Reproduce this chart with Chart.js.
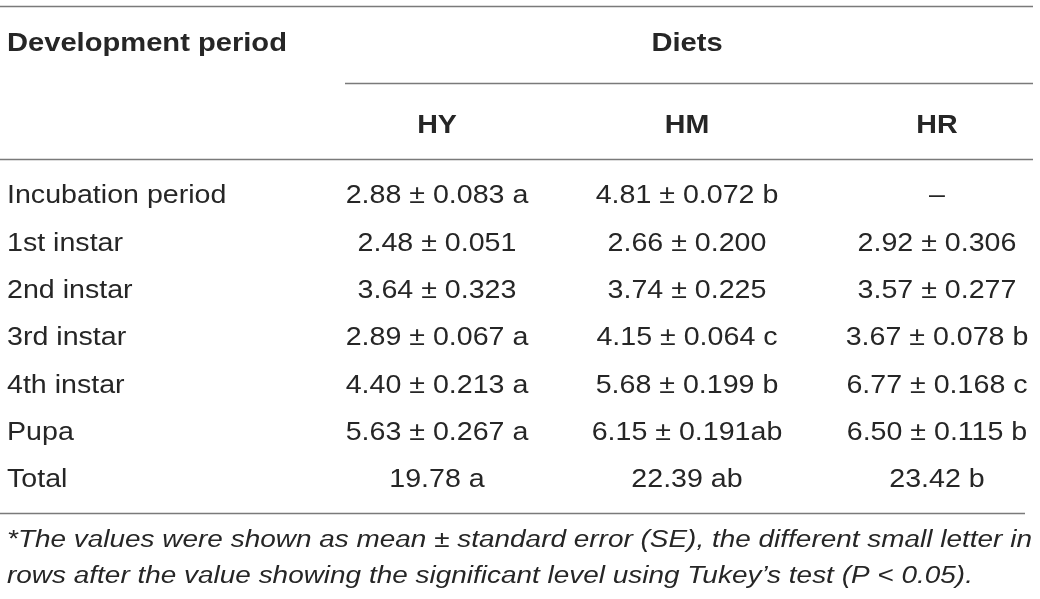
<!DOCTYPE html>
<html>
<head>
<meta charset="utf-8">
<script src="https://cdn.jsdelivr.net/npm/chart.js@4"></script>
<style>
  body { margin: 0; background: #fff; }
  canvas { display: block; }
</style>
</head>
<body>
<canvas id="tableChart" width="1040" height="599"></canvas>
<script>
// table content
const groupHeader = 'Development period';
const spanHeader = 'Diets';
const diets = ['HY', 'HM', 'HR'];
const periods = ['Incubation period', '1st instar', '2nd instar', '3rd instar', '4th instar', 'Pupa', 'Total'];
const hyValues = ['2.88 \u00b1 0.083 a', '2.48 \u00b1 0.051', '3.64 \u00b1 0.323', '2.89 \u00b1 0.067 a', '4.40 \u00b1 0.213 a', '5.63 \u00b1 0.267 a', '19.78 a'];
const hmValues = ['4.81 \u00b1 0.072 b', '2.66 \u00b1 0.200', '3.74 \u00b1 0.225', '4.15 \u00b1 0.064 c', '5.68 \u00b1 0.199 b', '6.15 \u00b1 0.191ab', '22.39 ab'];
const hrValues = ['\u2013', '2.92 \u00b1 0.306', '3.57 \u00b1 0.277', '3.67 \u00b1 0.078 b', '6.77 \u00b1 0.168 c', '6.50 \u00b1 0.115 b', '23.42 b'];
const footnote = [
    '*The values were shown as mean \u00b1 standard error (SE), the different small letter in',
    'rows after the value showing the significant level using Tukey\u2019s test (P < 0.05).'
];

// layout in axis units (x = column index, y = row index)
const labelCol = -0.72;
const headerRow = -3.21;
const dietRow = -1.48;
const footRows = [7.28, 8.04];
const rules = [
    { y: -3.98, from: -0.748, to: 3.384 },
    { y: -2.35, from: 0.632, to: 3.384 },
    { y: -0.74, from: -0.748, to: 3.384 },
    { y: 6.74, from: -0.748, to: 3.352 }
];

const textColor = '#262626';
const ruleColor = '#7a7a7a';
const fontFamily = '"Liberation Sans", Arial, sans-serif';

function cellPoints(col, n) {
    const pts = [];
    for (let i = 0; i < n; i++) pts.push({ x: col, y: i });
    return pts;
}

const columns = [periods, hyValues, hmValues, hrValues];
const datasets = columns.map((texts, c) => ({
    label: c === 0 ? groupHeader : diets[c - 1],
    data: cellPoints(c === 0 ? labelCol : c, texts.length),
    texts: texts,
    pointRadius: 0,
    showLine: false
}));

function drawText(ctx, str, x, y, font, align, stretch) {
    ctx.save();
    ctx.font = font;
    ctx.fillStyle = textColor;
    ctx.textBaseline = 'middle';
    ctx.translate(x, y + 2);
    ctx.scale(stretch, 1);
    const w = ctx.measureText(str).width;
    let dx = 0;
    if (align === 'center') dx = -w / 2;
    ctx.fillText(str, dx, 0);
    ctx.restore();
}

const tablePlugin = {
    id: 'tablePlugin',
    afterDatasetsDraw(chart) {
        const ctx = chart.ctx;
        const xs = chart.scales.x;
        const ys = chart.scales.y;
        const body = '26px ' + fontFamily;
        const bold = 'bold 26px ' + fontFamily;
        const italic = 'italic 23px ' + fontFamily;

        // rules
        ctx.save();
        ctx.strokeStyle = ruleColor;
        ctx.lineWidth = 1.3;
        rules.forEach(r => {
            const py = Math.round(ys.getPixelForValue(r.y)) + 0.5;
            ctx.beginPath();
            ctx.moveTo(xs.getPixelForValue(r.from), py);
            ctx.lineTo(xs.getPixelForValue(r.to), py);
            ctx.stroke();
        });
        ctx.restore();

        // headers
        drawText(ctx, groupHeader, xs.getPixelForValue(labelCol), ys.getPixelForValue(headerRow), bold, 'left', 1.12);
        drawText(ctx, spanHeader, xs.getPixelForValue(2), ys.getPixelForValue(headerRow), bold, 'center', 1.12);
        diets.forEach((d, i) => {
            drawText(ctx, d, xs.getPixelForValue(i + 1), ys.getPixelForValue(dietRow), bold, 'center', 1.1);
        });

        // cells
        chart.data.datasets.forEach((ds, c) => {
            const meta = chart.getDatasetMeta(c);
            meta.data.forEach((pt, i) => {
                drawText(ctx, ds.texts[i], pt.x, pt.y, body, c === 0 ? 'left' : 'center', 1.1);
            });
        });

        // footnote
        footnote.forEach((line, i) => {
            drawText(ctx, line, xs.getPixelForValue(labelCol), ys.getPixelForValue(footRows[i]), italic, 'left', 1.215);
        });
    }
};

const ctx = document.getElementById('tableChart').getContext('2d');
const tableChart = new Chart(ctx, {
    type: 'scatter',
    data: { datasets: datasets },
    options: {
        responsive: false,
        animation: false,
        layout: { padding: 0 },
        plugins: {
            legend: { display: false },
            tooltip: { enabled: false }
        },
        scales: {
            x: { type: 'linear', display: false, min: -0.748, max: 3.412 },
            y: { type: 'linear', display: false, reverse: true, min: -4.1, max: 8.557 }
        }
    },
    plugins: [tablePlugin]
});
</script>
</body>
</html>
